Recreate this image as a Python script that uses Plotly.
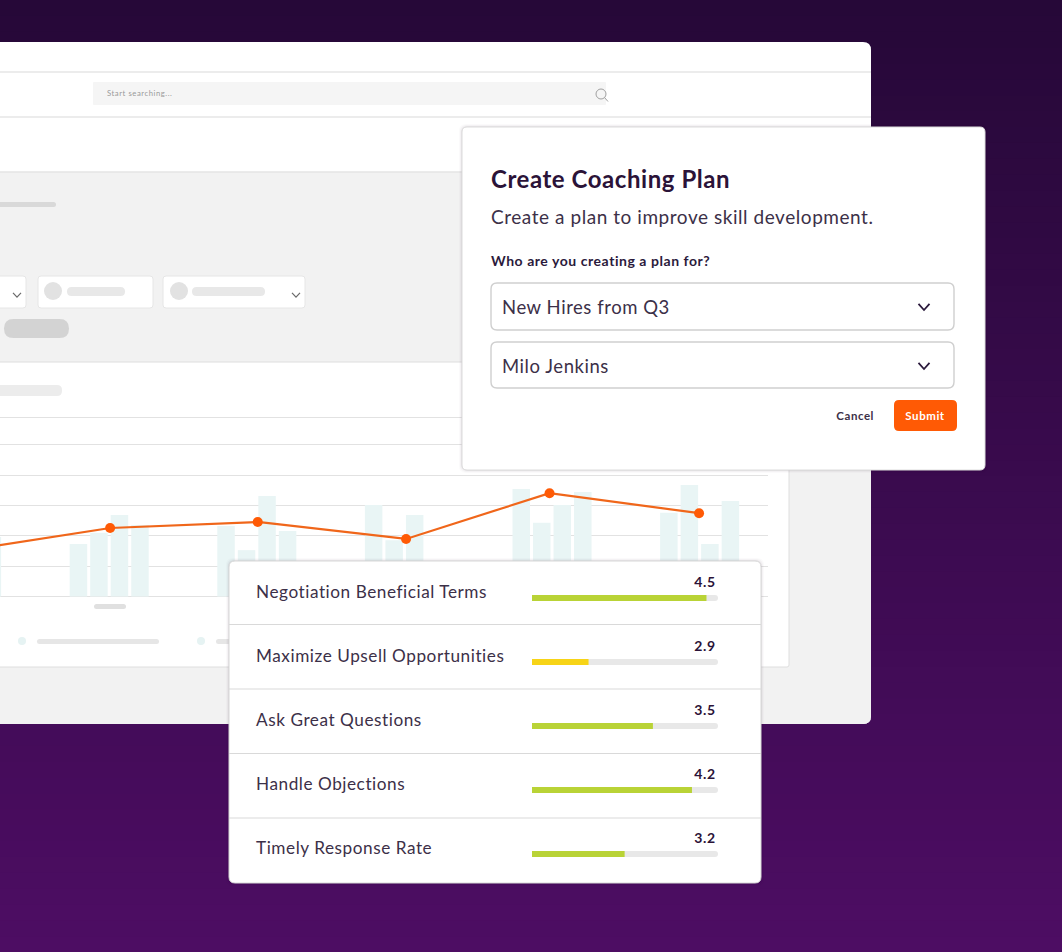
# coaching plan mockup: activity chart behind two cards
import plotly.graph_objects as go

W = 1062
H = 952

# activity chart (only the parts on screen can be read)
groups = [0, 1, 2, 3, 4, 5]
bar_a = [20, 17.3, 23.3, 30.2, 35.5, 27.6]
bar_b = [15, 21, 15.3, 18.6, 24.3, 36.8]
bar_c = [24, 26.9, 33.2, 26.9, 30.2, 17.3]
bar_d = [19.6, 23.6, 21.6, 0, 34.5, 31.5]
trend_x = [0, 1, 2, 3.005, 3.977, 4.99]
trend = [15, 22.6, 24.6, 19, 34.1, 27.5]
grid_vals = [0, 10, 20, 30, 40, 50, 59]

# skills card
skills = ["Negotiation Beneficial Terms", "Maximize Upsell Opportunities",
          "Ask Great Questions", "Handle Objections", "Timely Response Rate"]
scores = ["4.5", "2.9", "3.5", "4.2", "3.2"]
fill_pct = [93.8, 30.4, 65, 86, 49.8]
track_pct = [100, 100, 100, 100, 100]
fill_colors = ["#b9d336", "#f7d417", "#b9d336", "#b9d336", "#b9d336"]
rows = [0, 1, 2, 3, 4]

FONT = "Lato"
DARK = "#2b1a3c"


def paper(x, y):
    return x / W, 1 - y / H


def card_xy(x, y):
    # pixel to skills subplot units: bars start at 532px, 1.86px per pct, rows 64px apart
    return (x - 532) / 1.86, (y - 598) / 64


def rounded(x0, y0, x1, y1, r, conv=paper):
    pts = [(x0 + r, y0), (x1 - r, y0), (x1, y0), (x1, y0 + r), (x1, y1 - r), (x1, y1),
           (x1 - r, y1), (x0 + r, y1), (x0, y1), (x0, y1 - r), (x0, y0 + r), (x0, y0), (x0 + r, y0)]
    p = [conv(*q) for q in pts]
    s = f"M{p[0][0]},{p[0][1]} L{p[1][0]},{p[1][1]} Q{p[2][0]},{p[2][1]} {p[3][0]},{p[3][1]} "
    s += f"L{p[4][0]},{p[4][1]} Q{p[5][0]},{p[5][1]} {p[6][0]},{p[6][1]} "
    s += f"L{p[7][0]},{p[7][1]} Q{p[8][0]},{p[8][1]} {p[9][0]},{p[9][1]} "
    s += f"L{p[10][0]},{p[10][1]} Q{p[11][0]},{p[11][1]} {p[12][0]},{p[12][1]} Z"
    return s


shapes = []


def box(x0, y0, x1, y1, r=0, fill="white", line=None, lw=1, layer="below"):
    shapes.append(dict(type="path", path=rounded(x0, y0, x1, y1, r), xref="paper", yref="paper",
                       fillcolor=fill, line=dict(color=line or "rgba(0,0,0,0)", width=lw if line else 0),
                       layer=layer))


def circle(cx, cy, rad, fill="#e2e2e2", line=None, layer="below"):
    x0, y0 = paper(cx - rad, cy + rad)
    x1, y1 = paper(cx + rad, cy - rad)
    shapes.append(dict(type="circle", x0=x0, y0=y0, x1=x1, y1=y1, xref="paper", yref="paper",
                       fillcolor=fill, line=dict(color=line or "rgba(0,0,0,0)", width=1 if line else 0),
                       layer=layer))


def rule(x0, y0, x1, y1=None, color="#e2e2e2", lw=1.3, layer="below"):
    a = paper(x0, y0)
    b = paper(x1, y0 if y1 is None else y1)
    shapes.append(dict(type="line", x0=a[0], y0=a[1], x1=b[0], y1=b[1], xref="paper", yref="paper",
                       line=dict(color=color, width=lw), layer=layer))


def chevron(x, y, color="#3a3040", size=5, lw=1.6, layer="below"):
    a = paper(x - size, y - size * 0.55)
    b = paper(x, y + size * 0.55)
    c = paper(x + size, y - size * 0.55)
    shapes.append(dict(type="path", path=f"M{a[0]},{a[1]} L{b[0]},{b[1]} L{c[0]},{c[1]}",
                       xref="paper", yref="paper", fillcolor="rgba(0,0,0,0)",
                       line=dict(color=color, width=lw), layer=layer))


# background gradient
top = (38, 8, 56)
bottom = (77, 13, 99)
n_strips = 60
for i in range(n_strips):
    t = i / (n_strips - 1)
    c = [round(top[k] + (bottom[k] - top[k]) * t) for k in range(3)]
    box(0, i * H / n_strips, W, (i + 1) * H / n_strips + 1, fill=f"rgb({c[0]},{c[1]},{c[2]})")

# app window
box(-20, 42, 871, 724, 8, fill="white")
rule(0, 72, 871, color="#e6e6e6")
rule(0, 117, 871, color="#e6e6e6")
box(93, 82, 606, 105, 1, fill="#f5f5f5")
circle(601, 94, 5, fill="rgba(0,0,0,0)", line="#a0a0a0")
rule(604.5, 97.5, 608, 101.5, color="#a0a0a0", lw=1)
box(-20, 172, 871, 724, 8, fill="#f2f2f2")
rule(0, 172, 871, color="#e4e4e4")
box(-10, 202, 56, 207, 2.5, fill="#d9d9d9")
box(-20, 276, 26, 308, 3, fill="white", line="#e6e6e6")
chevron(17, 295, "#6a6a6a", 4, 1.2)
box(38, 276, 153, 308, 3, fill="white", line="#e6e6e6")
circle(53, 291, 9)
box(67, 287, 125, 296, 4.5, fill="#e8e8e8")
box(163, 276, 305, 308, 3, fill="white", line="#e6e6e6")
circle(179, 291, 9)
box(192, 287, 265, 296, 4.5, fill="#e8e8e8")
chevron(296, 295, "#6a6a6a", 4, 1.2)
box(4, 319, 69, 338, 9.5, fill="#d3d3d3")

# chart card
box(-20, 362, 789, 667, 2, fill="white", line="#dedede")
box(-10, 385, 62, 396, 5, fill="#ececec")
box(94, 604, 126, 609, 2.5, fill="#e0e0e0")
circle(22, 641, 4, fill="#e6f3f3")
box(37, 639, 159, 644, 2.5, fill="#e6e6e6")
circle(201, 641, 4, fill="#e6f3f3")
box(216, 639, 240, 644, 2.5, fill="#e6e6e6")

# skills card, drawn inside its own subplot so it sits on top of the chart
for grow, alpha in [(3, 0.02), (2, 0.03), (1, 0.06)]:
    shapes.append(dict(type="path", path=rounded(229 - grow, 561 - grow, 761 + grow, 883 + grow, 7, card_xy),
                       xref="x2", yref="y2", fillcolor=f"rgba(30,10,40,{alpha})",
                       line=dict(width=0), layer="between"))
shapes.append(dict(type="path", path=rounded(229, 561, 761, 883, 6, card_xy), xref="x2", yref="y2",
                   fillcolor="white", line=dict(color="#d8d8d8", width=1), layer="between"))
for sep in [624.5, 689, 753.5, 818]:
    a = card_xy(229, sep)
    b = card_xy(761, sep)
    shapes.append(dict(type="line", x0=a[0], y0=a[1], x1=b[0], y1=b[1], xref="x2", yref="y2",
                       line=dict(color="#d9d9d9", width=1.2), layer="between"))

# modal
for grow, alpha in [(3, 0.02), (2, 0.03), (1, 0.06)]:
    box(462 - grow, 127 - grow, 985 + grow, 470 + grow, 7, fill=f"rgba(30,10,40,{alpha})", layer="above")
box(462, 127, 985, 470, 5, fill="white", line="#dcdcdc", layer="above")
box(491, 283, 954, 330, 6, fill="white", line="#cfcfcf", lw=1.4, layer="above")
box(491, 342, 954, 388, 6, fill="white", line="#cfcfcf", lw=1.4, layer="above")
chevron(924, 307, "#2b1a3c", 5.5, 1.8, "above")
chevron(924, 366, "#2b1a3c", 5.5, 1.8, "above")
box(894, 400, 957, 431, 5, fill="#ff5a05", layer="above")

fig = go.Figure()

# chart bars and line
for i, vals in enumerate([bar_a, bar_b, bar_c, bar_d]):
    fig.add_trace(go.Bar(x=groups, y=vals, width=0.1186, offset=-0.274 + i * 0.139,
                         marker=dict(color="#e9f5f5", line=dict(width=0)), xaxis="x", yaxis="y"))
fig.add_trace(go.Scatter(x=trend_x, y=trend, mode="lines+markers", xaxis="x", yaxis="y",
                         line=dict(color="#f0661a", width=2.2),
                         marker=dict(color="#ff5a05", size=10)))

# skill bars
fig.add_trace(go.Bar(x=track_pct, y=rows, orientation="h", width=0.094, xaxis="x2", yaxis="y2",
                     marker=dict(color="#e8e8e8", cornerradius=3, line=dict(width=0))))
fig.add_trace(go.Bar(x=fill_pct, y=rows, orientation="h", width=0.094, xaxis="x2", yaxis="y2",
                     marker=dict(color=fill_colors, cornerradius=3, line=dict(width=0))))

annotations = []


def label(x, y, text, size, color=DARK, anchor="left", bold=False):
    # annotation boxes pad their text by about 2px
    ax, ay = paper(x - 2 if anchor == "left" else x, y)
    annotations.append(dict(x=ax, y=ay, xref="paper", yref="paper", text=f"<b>{text}</b>" if bold else text,
                            showarrow=False, xanchor=anchor, yanchor="middle", align=anchor,
                            font=dict(family=FONT, size=size, color=color)))


label(107, 93.5, "Start searching...", 7.7, "#9a9a9a")
label(491, 178, "Create Coaching Plan", 24, "#2b1338", bold=True)
label(491, 217, "Create a plan to improve skill development.", 19, "#3c3048")
label(491, 260.5, "Who are you creating a plan for?", 14, "#2b1a3c", bold=True)
label(502, 307, "New Hires from Q3", 18.5, "#3c3048")
label(502, 366, "Milo Jenkins", 18.5, "#3c3048")
label(855, 415, "Cancel", 11.5, "#3c3048", "center", True)
label(925.5, 415, "Submit", 11.5, "white", "center", True)

for r, name, score in zip(rows, skills, scores):
    annotations.append(dict(x=card_xy(254, 0)[0], y=r, xref="x2", yref="y2", text=name, showarrow=False,
                            xanchor="left", align="left", yanchor="middle", yshift=7,
                            font=dict(family=FONT, size=17.2, color="#3c3048")))
    annotations.append(dict(x=100, y=r, xref="x2", yref="y2", text=f"<b>{score}</b>", showarrow=False,
                            xanchor="right", align="right", yanchor="middle", yshift=17,
                            font=dict(family=FONT, size=14, color="#2b1338")))

fig.update_layout(
    width=W, height=H, margin=dict(l=0, r=0, t=0, b=0), showlegend=False, barmode="overlay",
    paper_bgcolor="#3a0b4e", plot_bgcolor="rgba(0,0,0,0)",
    shapes=shapes, annotations=annotations,
    xaxis=dict(domain=[0, 768 / W], range=[0.254, 5.457], visible=False, anchor="y"),
    yaxis=dict(domain=[1 - 600 / H, 1 - 365 / H], range=[-1.155, 76.4], anchor="x",
               tickmode="array", tickvals=grid_vals, showticklabels=False, ticks="",
               showgrid=True, gridcolor="#e2e2e2", gridwidth=1.2, zeroline=False, showline=False),
    xaxis2=dict(domain=[224 / W, 766 / W], range=[card_xy(224, 0)[0], card_xy(766, 0)[0]],
                visible=False, anchor="y2"),
    yaxis2=dict(domain=[1 - 888 / H, 1 - 555 / H], range=[card_xy(0, 888)[1], card_xy(0, 555)[1]],
                visible=False, anchor="x2"),
)

# the mockup text is letter-spaced, plotly has no font option for that
page_fix = """
document.body.style.margin = '0';
document.body.style.overflow = 'hidden';
document.querySelectorAll('.annotation-text').forEach(function (t) { t.style.letterSpacing = '0.55px'; });
"""
fig.write_html("out.html", config={"displayModeBar": False}, post_script=page_fix)
